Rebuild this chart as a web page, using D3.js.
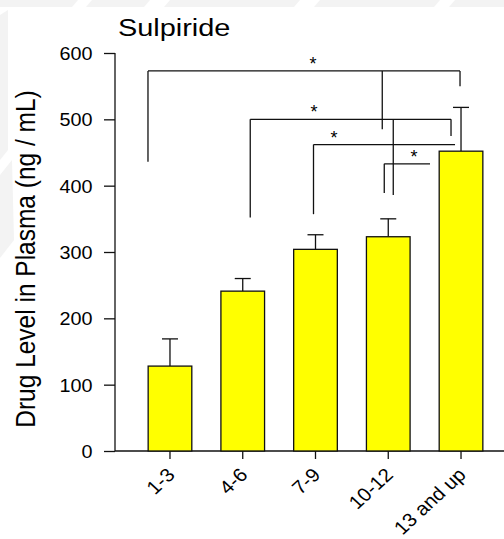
<!DOCTYPE html>
<html>
<head>
<meta charset="utf-8">
<script src="https://cdn.jsdelivr.net/npm/d3@7"></script>
<style>
  html, body { margin: 0; padding: 0; background: #fff; }
  svg { display: block; }
  text { font-family: "Liberation Sans", Arial, sans-serif; fill: #000; }
</style>
</head>
<body>
<script>
// ---- data ----
const categories = ["1-3", "4-6", "7-9", "10-12", "13 and up"];
const means = [128, 241, 304, 323, 452];
const errorTops = [169, 260, 326, 350, 518];
const yTicks = [0, 100, 200, 300, 400, 500, 600];
const title = "Sulpiride";
const yLabel = "Drug Level in Plasma (ng / mL)";
// significance brackets
const bracketFrom = ["1-3", "4-6", "7-9", "10-12"];
const bracketTo = ["13 and up", "13 and up", "13 and up", "13 and up"];
const bracketLevel = [573, 500, 462, 433];
const bracketLeftEnd = [436, 352, 357, 389];
const bracketRightEnd = [550, 475, null, null];
const bracketLabels = ["*", "*", "*", "*"];

const W = 504, H = 539;

const svg = d3.select("body").append("svg").attr("width", W).attr("height", H);

// faint watermark bands
const wm = svg.append("g").attr("fill", "#f3f3f3");
wm.append("path").attr("d", "M0,0 L78,0 L72,7 L0,7 Z");
wm.append("path").attr("d", "M92,0 L150,0 L144,7 L86,7 Z");
wm.append("path").attr("d", "M170,0 L300,0 L294,7 L164,7 Z");
wm.append("path").attr("d", "M320,0 L440,0 L434,7 L314,7 Z");
wm.append("path").attr("d", "M455,0 L504,0 L504,7 L449,7 Z");
wm.append("path").attr("d", "M0,15 L8,10 L8,150 L0,160 Z");
wm.append("path").attr("d", "M0,175 L12,160 L14,240 L0,258 Z");

const y = d3.scaleLinear().domain([0, 600]).range([451, 53]);
const x = d3.scaleBand().domain(categories).range([133.6, 497.4])
  .paddingInner(0.4).paddingOuter(0.2);
const cx = c => x(c) + x.bandwidth() / 2;

const stroke = "#111", sw = 1.3;

// title
svg.append("text")
  .attr("transform", `translate(118,36) scale(1.18,1)`)
  .attr("font-size", 24.5)
  .text(title);

// y label
svg.append("text")
  .attr("transform", `translate(35,259) scale(1.13,1) rotate(-90)`)
  .attr("text-anchor", "middle")
  .attr("font-size", 24.5)
  .text(yLabel);

// y axis
const yAxis = svg.append("g").attr("transform", "translate(115,0)")
  .call(d3.axisLeft(y).tickValues(yTicks).tickSize(11).tickPadding(0).tickFormat(d3.format("d")));
yAxis.select(".domain").remove();
yAxis.selectAll(".tick line").attr("stroke", stroke).attr("stroke-width", sw);
yAxis.selectAll(".tick text").remove();
yAxis.selectAll(".tick").append("text")
  .attr("transform", `translate(-22.5,6.4) scale(1.1,1)`)
  .attr("text-anchor", "end")
  .attr("font-size", 18)
  .text(d => d);
svg.append("line").attr("x1", 115).attr("x2", 115).attr("y1", y(600)).attr("y2", y(0))
  .attr("stroke", stroke).attr("stroke-width", sw);

// x axis
const xAxis = svg.append("g").attr("transform", `translate(0,${y(0)})`)
  .call(d3.axisBottom(x).tickSize(8).tickSizeOuter(0));
xAxis.select(".domain").remove();
xAxis.selectAll(".tick line").attr("stroke", stroke).attr("stroke-width", sw);
xAxis.selectAll(".tick text").remove();
xAxis.selectAll(".tick").append("text")
  .attr("transform", "translate(6,25) scale(1.08,1) rotate(-45)")
  .attr("text-anchor", "end")
  .attr("font-size", 19)
  .text(d => d);
svg.append("line").attr("x1", 115).attr("x2", W).attr("y1", y(0)).attr("y2", y(0))
  .attr("stroke", stroke).attr("stroke-width", sw);

// error bars
const eb = svg.append("g").attr("stroke", stroke).attr("stroke-width", sw);
categories.forEach((c, i) => {
  eb.append("line").attr("x1", cx(c)).attr("x2", cx(c)).attr("y1", y(means[i])).attr("y2", y(errorTops[i]));
  eb.append("line").attr("x1", cx(c) - 8).attr("x2", cx(c) + 8).attr("y1", y(errorTops[i])).attr("y2", y(errorTops[i]));
});

// bars
svg.append("g").selectAll("rect").data(categories).join("rect")
  .attr("x", c => x(c))
  .attr("width", x.bandwidth())
  .attr("y", (c, i) => y(means[i]))
  .attr("height", (c, i) => y(0) - y(means[i]))
  .attr("fill", "#ffff00")
  .attr("stroke", stroke)
  .attr("stroke-width", sw);

// significance brackets
const br = svg.append("g").attr("stroke", stroke).attr("stroke-width", sw).attr("fill", "none");
const leftOff = [-22, 7.5, -2, -4];
const rightOff = [-1, -10, -6, -31];
const starX = [313, 314, 334, 414];
bracketFrom.forEach((f, i) => {
  const xl = cx(f) + leftOff[i];
  const xr = cx(bracketTo[i]) + rightOff[i];
  const yl = y(bracketLevel[i]);
  br.append("line").attr("x1", xl).attr("x2", xr).attr("y1", yl).attr("y2", yl);
  br.append("line").attr("x1", xl).attr("x2", xl).attr("y1", yl).attr("y2", y(bracketLeftEnd[i]));
  if (bracketRightEnd[i] !== null) {
    br.append("line").attr("x1", xr).attr("x2", xr).attr("y1", yl).attr("y2", y(bracketRightEnd[i]));
  }
  svg.append("text")
    .attr("x", starX[i]).attr("y", yl - 1)
    .attr("text-anchor", "middle")
    .attr("font-size", 18)
    .text(bracketLabels[i]);
});
// extra connecting drops seen in the reference
br.append("line").attr("x1", cx("10-12") - 6).attr("x2", cx("10-12") - 6)
  .attr("y1", y(573)).attr("y2", y(485));
br.append("line").attr("x1", cx("10-12") + 5).attr("x2", cx("10-12") + 5)
  .attr("y1", y(500)).attr("y2", y(386));
</script>
</body>
</html>
